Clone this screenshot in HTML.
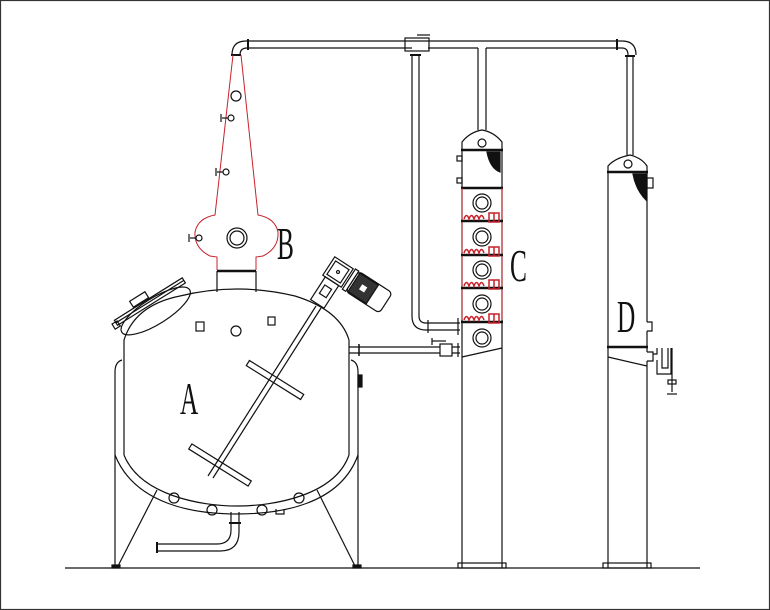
<!DOCTYPE html>
<html><head><meta charset="utf-8"><style>
html,body{margin:0;padding:0;background:#fff}
svg{display:block}
.l{font-family:"Liberation Serif",serif;font-size:46px}
</style></head><body>
<svg width="770" height="610" viewBox="0 0 770 610" xmlns="http://www.w3.org/2000/svg" fill="none" stroke="#111" stroke-width="1.2">
<rect x="0.5" y="0.5" width="769" height="609" stroke="#333"/>
<line x1="65" y1="568" x2="700" y2="568"/>

<!-- top pipe -->
<path d="M232,55 Q232,41 246,41 L622,41 Q636,41 636,55"/>
<path d="M240,55 Q240,48 247,48 L412,48 M428,48 L478,48 M486,48 L622,48 Q628,48 628,55"/>
<line x1="248" y1="39" x2="248" y2="50" stroke-width="2"/>
<line x1="617" y1="39" x2="617" y2="50" stroke-width="2"/>
<rect x="405" y="38" width="24" height="13"/>
<line x1="417" y1="35" x2="430" y2="35"/>
<line x1="231" y1="55" x2="241" y2="55" stroke-width="2"/>
<path d="M412,54 L412,316 Q412,330 426,330 L460,330"/>
<path d="M419,54 L419,316 Q419,323 426,323 L460,323"/>
<line x1="410" y1="55" x2="421" y2="55" stroke-width="2"/>
<line x1="428" y1="320" x2="428" y2="333"/>
<line x1="458" y1="318" x2="458" y2="335"/>
<line x1="478" y1="48" x2="478" y2="130"/>
<line x1="486" y1="48" x2="486" y2="130"/>
<line x1="627" y1="56" x2="627" y2="155"/>
<line x1="633" y1="56" x2="633" y2="155"/>
<line x1="625" y1="56" x2="635" y2="56" stroke-width="2"/>

<!-- B helmet -->
<g stroke="#c8202a" stroke-width="1">
<path d="M233,55 L215,215 Q198,218 195,232 Q194,248 210,256 L217,257 L217,270"/>
<path d="M241,55 L258,215 Q275,218 278,232 Q279,248 263,256 L256,257 L256,270"/>
</g>
<circle cx="236" cy="96" r="5"/>
<circle cx="231" cy="118" r="3"/><line x1="222" y1="118" x2="228" y2="118"/><line x1="221" y1="114" x2="221" y2="122"/>
<circle cx="226" cy="172" r="3"/><line x1="217" y1="172" x2="223" y2="172"/><line x1="216" y1="168" x2="216" y2="176"/>
<circle cx="199" cy="238" r="3"/><line x1="190" y1="238" x2="196" y2="238"/><line x1="189" y1="234" x2="189" y2="242"/>
<circle cx="237" cy="238" r="10"/><circle cx="237" cy="238" r="7"/>
<line x1="217" y1="271" x2="256" y2="271" stroke-width="2.5"/>
<line x1="217" y1="271" x2="217" y2="292"/><line x1="256" y1="271" x2="256" y2="292"/>
<text class="l" x="0" y="0" transform="translate(277,259) scale(0.55,1)" fill="#111" stroke="none">B</text>

<!-- Tank A -->
<path d="M124,455 L124,340 Q135,305 180,296 Q237,282 295,296 Q340,310 349,340 L349,455"/>
<path d="M124,455 C140,495 200,506 237,506 C275,506 335,495 349,455"/>
<path d="M115,568 L115,372 Q115,362 122,360 M358,568 L358,372 Q358,362 351,360"/>
<path d="M115,455 C135,505 195,514 237,514 C280,514 340,505 358,455"/>
<line x1="157" y1="490" x2="118" y2="566"/>
<line x1="317" y1="490" x2="355" y2="566"/>
<rect x="112" y="565" width="8" height="3" fill="#111"/><rect x="353" y="565" width="8" height="3" fill="#111"/>
<rect x="358" y="375" width="4" height="12" fill="#111"/>
<circle cx="174" cy="498" r="5"/><circle cx="212" cy="510" r="5"/><circle cx="262" cy="510" r="5"/><circle cx="299" cy="498" r="5"/>
<path d="M231,512 L231,530 Q231,544 217,544 L157,544 M239,512 L239,532 Q239,551 220,551 L157,551"/>
<line x1="157" y1="542" x2="157" y2="553" stroke-width="2"/>
<line x1="229" y1="523" x2="241" y2="523" stroke-width="2"/>
<path d="M276,509 L276,514 L284,514 L284,509"/>
<rect x="196" y="322" width="8" height="9"/><circle cx="236" cy="331" r="5"/><rect x="268" y="317" width="7" height="8"/>
<g transform="rotate(-32 152 305)">
<ellipse cx="152" cy="312" rx="40" ry="13"/>
<rect x="112" y="298" width="80" height="6"/>
<line x1="112" y1="301" x2="192" y2="301"/>
<rect x="135" y="290" width="18" height="7"/>
<rect x="108" y="300" width="6" height="6"/>
</g>
<!-- agitator -->
<line x1="316" y1="306" x2="208" y2="476"/>
<line x1="321" y1="308" x2="213" y2="478"/>
<g transform="rotate(32 275 380)"><rect x="243" y="377" width="64" height="6"/></g>
<g transform="rotate(32 220 465)"><rect x="185" y="462" width="70" height="6"/></g>
<!-- motor -->
<g transform="translate(338,272) rotate(33)">
<rect x="-11" y="-11" width="22" height="22"/>
<rect x="-8" y="-8" width="16" height="16"/>
<circle cx="0" cy="0" r="1.5"/>
<rect x="-8" y="11" width="16" height="27"/>
<rect x="-4" y="18" width="8" height="10"/>
<rect x="13" y="-12" width="4" height="24"/>
<rect x="17" y="-12" width="40" height="24" rx="4"/>
<rect x="19" y="-11" width="22" height="22" fill="#333"/>
<rect x="27" y="-3" width="6" height="6" fill="#fff" stroke="none"/>
</g>
<!-- pipe A to C -->
<path d="M349,347 L440,347 M349,353 L440,353 M452,347 L460,347 M452,353 L460,353"/>
<line x1="359" y1="344" x2="359" y2="356" stroke-width="1.5"/>
<rect x="440" y="344" width="12" height="12"/>
<line x1="432" y1="341" x2="446" y2="341"/><line x1="432" y1="338" x2="432" y2="345"/>
<line x1="458" y1="343" x2="458" y2="357"/>

<!-- Column C -->
<path d="M462,150 L462,142 Q470,132 482,130 Q494,132 502,142 L502,150"/>
<circle cx="482" cy="143" r="4"/>
<line x1="461" y1="150" x2="503" y2="150" stroke-width="2.5"/>
<line x1="461" y1="188" x2="503" y2="188" stroke-width="2.5"/>
<path d="M462,150 L462,568 M502,150 L502,568"/>
<rect x="457" y="156" width="5" height="5"/><rect x="457" y="178" width="5" height="5"/>
<path d="M487,152 L500,152 L500,172 Q490,168 487,152 Z" fill="#111"/>
<path d="M462,188 L462,320 M502,188 L502,320" stroke="#c8202a" stroke-width="1"/>
<circle cx="482" cy="203" r="9"/><circle cx="482" cy="203" r="6"/>
<circle cx="482" cy="237" r="9"/><circle cx="482" cy="237" r="6"/>
<circle cx="482" cy="270" r="9"/><circle cx="482" cy="270" r="6"/>
<circle cx="482" cy="304" r="9"/><circle cx="482" cy="304" r="6"/>
<circle cx="482" cy="338" r="9"/><circle cx="482" cy="338" r="6"/>
<g stroke="#111" stroke-width="2.5">
<line x1="461" y1="221" x2="503" y2="221"/><line x1="461" y1="255" x2="503" y2="255"/>
<line x1="461" y1="288" x2="503" y2="288"/><line x1="461" y1="322" x2="503" y2="322"/>
</g>
<g stroke="#c8202a" stroke-width="1.5">
<path d="M464,219 q2.5,-7 5,0 q2.5,-7 5,0 q2.5,-7 5,0 q2.5,-7 5,0 M489,213 h5 v9 h-5 z M494,213 h5 v9 h-5 z"/>
<path d="M464,253 q2.5,-7 5,0 q2.5,-7 5,0 q2.5,-7 5,0 q2.5,-7 5,0 M489,247 h5 v9 h-5 z M494,247 h5 v9 h-5 z"/>
<path d="M464,286 q2.5,-7 5,0 q2.5,-7 5,0 q2.5,-7 5,0 q2.5,-7 5,0 M489,280 h5 v9 h-5 z M494,280 h5 v9 h-5 z"/>
<path d="M464,320 q2.5,-7 5,0 q2.5,-7 5,0 q2.5,-7 5,0 q2.5,-7 5,0 M489,314 h5 v9 h-5 z M494,314 h5 v9 h-5 z"/>
</g>
<line x1="462" y1="357" x2="502" y2="348"/>
<rect x="458" y="563" width="48" height="5"/>
<text class="l" x="0" y="0" transform="translate(510,281) scale(0.55,1)" fill="#111" stroke="none">C</text>

<!-- Column D -->
<path d="M608,172 L608,166 Q615,158 630,155 Q642,158 647,166 L647,172"/>
<circle cx="628" cy="164" r="4"/>
<line x1="607" y1="172" x2="648" y2="172" stroke-width="2.5"/>
<line x1="607" y1="347" x2="648" y2="347" stroke-width="2.5"/>
<path d="M608,172 L608,568 M647,172 L647,322 M647,331 L647,352 M647,361 L647,568"/>
<path d="M633,174 L646,174 L646,200 Q636,190 633,174 Z" fill="#111"/>
<rect x="647" y="178" width="6" height="10"/>
<path d="M647,322 h5 v9 h-5"/>
<line x1="608" y1="357" x2="647" y2="366"/>
<path d="M647,352 h6 v9 h-6"/>
<path d="M653,354 h4 v-6 M657,360 v14 h14 v-26 M662,348 v20 h6 v-20"/>
<line x1="672" y1="348" x2="672" y2="392"/>
<rect x="668" y="380" width="8" height="4"/><line x1="667" y1="394" x2="677" y2="394"/>
<rect x="603" y="563" width="48" height="5"/>
<text class="l" x="0" y="0" transform="translate(617,332) scale(0.55,1)" fill="#111" stroke="none">D</text>

<text class="l" x="0" y="0" transform="translate(180,414) scale(0.55,1)" fill="#111" stroke="none">A</text>
</svg>
</body></html>
